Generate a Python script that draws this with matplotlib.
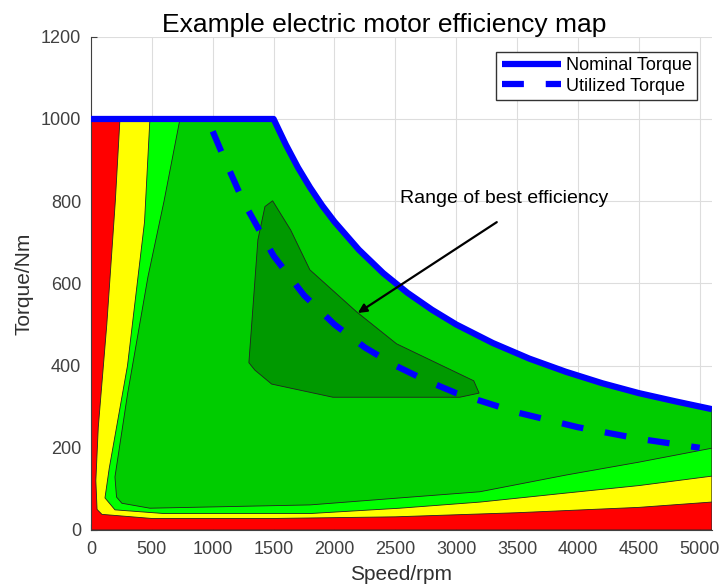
import numpy as np
import matplotlib.pyplot as plt

plt.rcParams['font.family'] = ['Liberation Sans', 'DejaVu Sans']

# nominal torque envelope (Nm) vs speed (rpm)
nom_speed = [0, 1500, 1600, 1700, 1800, 1900, 2000, 2200, 2400, 2600, 2800, 3000,
             3300, 3600, 3900, 4200, 4500, 4800, 5100]
nom_torque = [1000, 1000, 938, 882, 833, 789, 750, 682, 625, 577, 536, 500,
              455, 417, 385, 357, 333, 313, 294]

# utilized torque (dashed)
util_speed = [1000, 1100, 1250, 1500, 1750, 2000, 2250, 2500, 2750, 3000,
              3500, 4000, 4500, 5000]
util_torque = [970, 900, 800, 667, 571, 500, 444, 400, 364, 333,
               286, 250, 222, 200]

# efficiency contour boundaries (lower-left edge of each zone)
yellow_x = [238, 200, 130, 60, 40, 50, 90, 500, 1500, 2500, 3500, 4500, 5100]
yellow_y = [1000, 800, 500, 250, 120, 50, 38, 28, 28, 32, 42, 55, 68]

lgreen_x = [484, 440, 300, 150, 115, 197, 600, 1800, 2537, 3200, 3908, 4500, 5100]
lgreen_y = [1000, 750, 400, 150, 78, 49, 40, 40, 53, 68, 90, 108, 131]

green_x = [731, 600, 468, 300, 197, 210, 254, 484, 1800, 2537, 3194, 3908, 4500, 5100]
green_y = [1000, 800, 616, 330, 129, 80, 65, 53, 61, 78, 93, 134, 165, 199]

best_x = [1492, 1429, 1371, 1297, 1346, 1484, 1987, 3030, 3188, 3144, 2510, 2181, 1798, 1640]
best_y = [801, 787, 706, 407, 389, 355, 323, 323, 333, 363, 453, 531, 633, 730]

fig = plt.figure(figsize=(7.22, 5.84), dpi=100)
ax = fig.add_axes([0.126, 0.0925, 0.86, 0.8445])


def zone(bx, by):
    # close the zone along the right edge and the nominal torque curve
    xs = list(bx) + [nom_speed[-1]]
    ys = list(by) + [nom_torque[-1]]
    for s, t in zip(nom_speed[::-1], nom_torque[::-1]):
        if s > bx[0]:
            xs.append(s)
            ys.append(t)
    xs.append(bx[0])
    ys.append(1000)
    return xs, ys


# red base zone
rx = [0, nom_speed[-1]] + nom_speed[::-1]
ry = [0, 0] + nom_torque[::-1]
ax.fill(rx, ry, color='#ff0000', ec='#222222', lw=0.6, zorder=2)

for bx, by, col in [(yellow_x, yellow_y, '#ffff00'),
                    (lgreen_x, lgreen_y, '#00ff00'),
                    (green_x, green_y, '#00cc00')]:
    xs, ys = zone(bx, by)
    ax.fill(xs, ys, color=col, ec='#222222', lw=0.6, zorder=3)

ax.fill(best_x, best_y, color='#009900', ec='#222222', lw=0.6, zorder=4)

ax.plot(nom_speed, nom_torque, color='#0000ff', lw=4.5, label='Nominal Torque',
        zorder=6, solid_capstyle='butt')
ax.plot(util_speed, util_torque, color='#0000ff', lw=4.5, ls=(0, (3.5, 3.5)),
        label='Utilized Torque', zorder=6)

ax.text(3391, 796, 'Range of best efficiency', fontsize=14, ha='center',
        va='baseline', zorder=7)
ax.annotate('', xy=(2192, 528), xytext=(3333, 749), zorder=7,
            arrowprops=dict(arrowstyle='-|>', color='black', lw=1.6,
                            mutation_scale=13, shrinkA=0, shrinkB=0))

ax.set_xlim(0, 5100)
ax.set_ylim(0, 1200)
ax.set_xticks(np.arange(0, 5001, 500))
ax.set_yticks(np.arange(0, 1201, 200))
ax.grid(True, color='#dddddd', lw=0.8, zorder=0)
ax.set_axisbelow(True)
ax.tick_params(direction='in', length=4, labelsize=13, colors='#404040')
ax.tick_params(axis='x', pad=8)
ax.tick_params(axis='y', pad=7)
for side in ['top', 'right']:
    ax.spines[side].set_visible(False)
for side in ['left', 'bottom']:
    ax.spines[side].set_color('#404040')

ax.set_title('Example electric motor efficiency map', fontsize=19, pad=3, x=0.472)
ax.set_xlabel('Speed/rpm', fontsize=15, color='#303030', labelpad=5)
ax.set_ylabel('Torque/Nm', fontsize=15, color='#303030', labelpad=5)

leg = ax.legend(loc='upper right', fontsize=13, handlelength=3.3, fancybox=False,
                edgecolor='#333333', framealpha=1, borderaxespad=0.83,
                handletextpad=0.25, labelspacing=0.2, borderpad=0.3)
leg.get_frame().set_linewidth(1.0)

fig.savefig('out.png', dpi=100)
